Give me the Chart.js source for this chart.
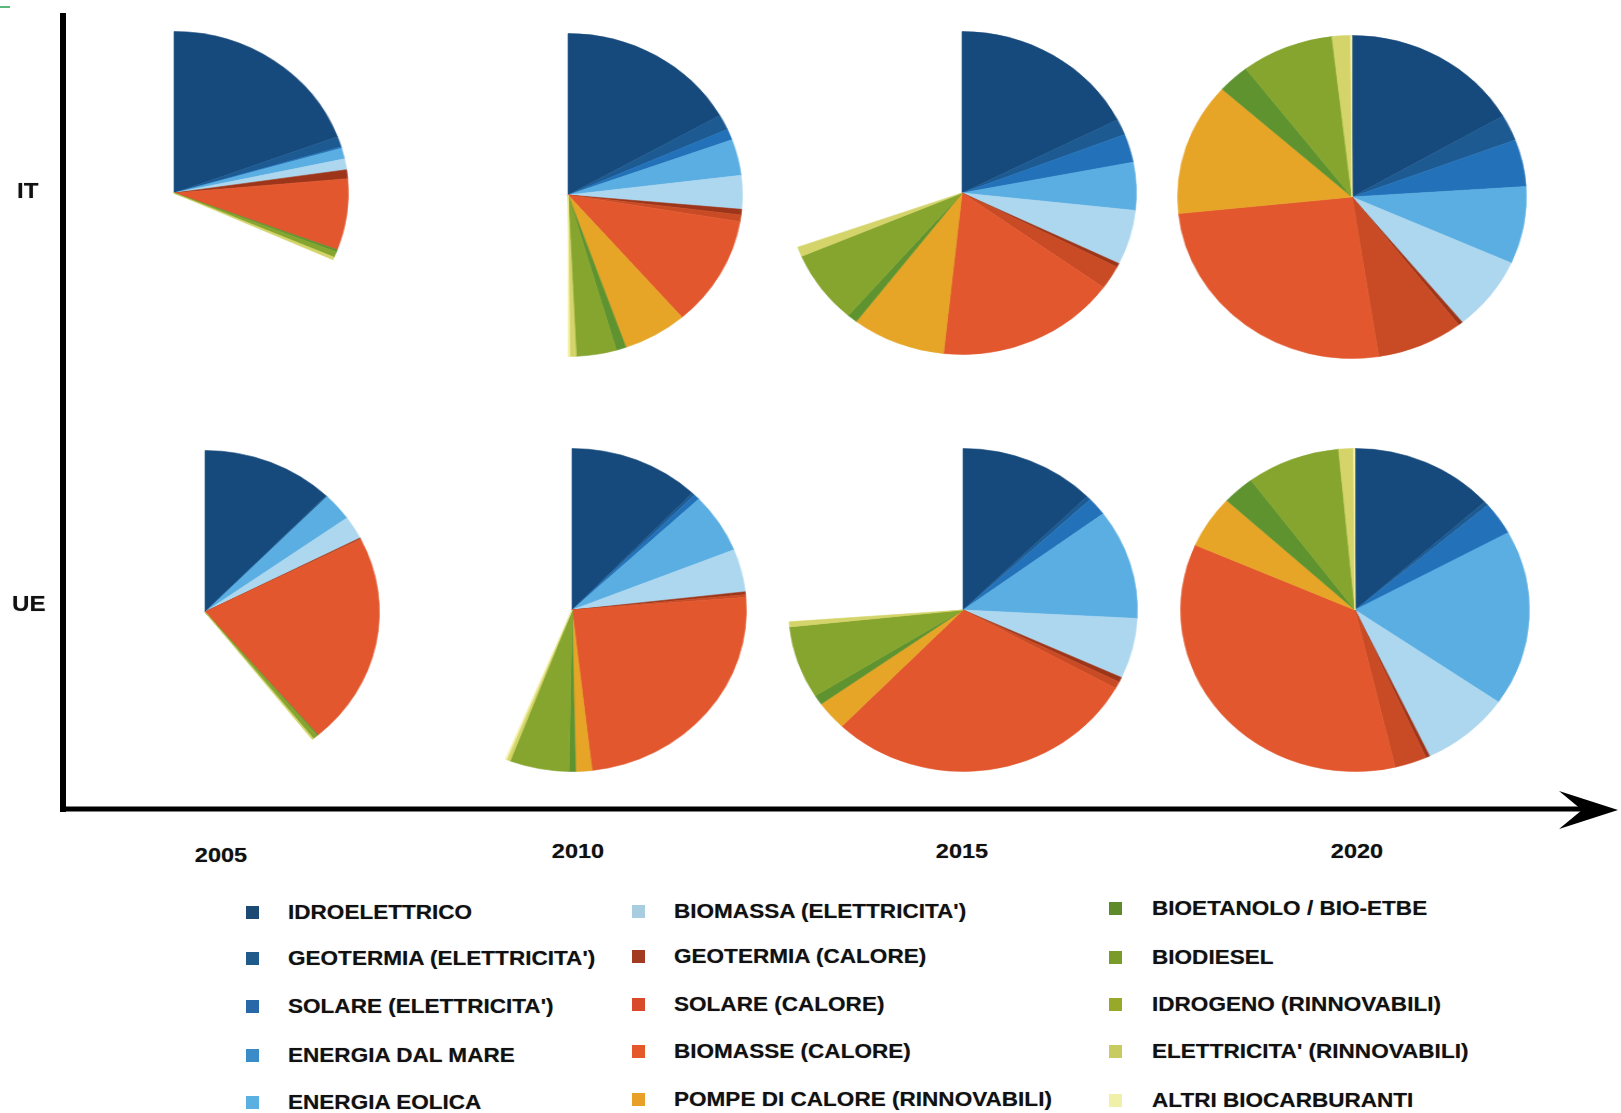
<!DOCTYPE html>
<html>
<head>
<meta charset="utf-8">
<script src="https://cdn.jsdelivr.net/npm/chart.js@4.4.0/dist/chart.umd.min.js"></script>
<style>
  html, body { margin:0; padding:0; background:#ffffff; }
  body { width:1621px; height:1113px; position:relative; overflow:hidden; font-family:"Liberation Sans", Arial, sans-serif; }
  .pie { position:absolute; width:340px; height:340px; transform:scaleX(1.08); transform-origin:50% 50%; }
  .lbl { position:absolute; font-weight:bold; color:#111; white-space:nowrap; transform-origin:0 50%; transform:scaleX(1.1); text-shadow:0 0 1px rgba(0,0,0,0.4); }
  .yr { position:absolute; font-weight:bold; color:#111; font-size:21px; line-height:24px; white-space:nowrap; transform:translateX(-50%) scaleX(1.12); text-shadow:0 0 1px rgba(0,0,0,0.4); }
  .mk { position:absolute; width:13px; height:13px; }
</style>
</head>
<body>
<svg width="1621" height="1113" style="position:absolute;left:0;top:0">
  <line x1="0" y1="7" x2="10" y2="7" stroke="#22a050" stroke-width="1.5"/>
  <line x1="63" y1="13" x2="63" y2="812" stroke="#000" stroke-width="6"/>
  <line x1="60" y1="809" x2="1590" y2="809" stroke="#000" stroke-width="5"/>
  <polygon points="1618,810 1559,791 1582,810 1559,829" fill="#000"/>
</svg>
<div id="root"></div>
<script>
// ---- DATA (angles in degrees; a full circle = 360) ----
const categories = [
  "IDROELETTRICO", "GEOTERMIA (ELETTRICITA')", "SOLARE (ELETTRICITA')", "ENERGIA DAL MARE", "ENERGIA EOLICA",
  "BIOMASSA (ELETTRICITA')", "GEOTERMIA (CALORE)", "SOLARE (CALORE)", "BIOMASSE (CALORE)", "POMPE DI CALORE (RINNOVABILI)",
  "BIOETANOLO / BIO-ETBE", "BIODIESEL", "IDROGENO (RINNOVABILI)", "ELETTRICITA' (RINNOVABILI)", "ALTRI BIOCARBURANTI"
];
const years = ["2005", "2010", "2015", "2020"];
const regions = ["IT", "UE"];
const fullCircle = 360;

//            idro  geoEl solEl mare eol   biomEl geoC solC biomC  pompe bioet biodi idrog elet altri
const it2005 = [69.6, 3.8, 0.5, 0,   3.9,  3.9,  3.2, 0,   25.7,  0,    0.8,  2.0,  0,   1.0, 0];
const it2010 = [60.5, 5.5, 4.0, 0,   13.0, 12.1, 2.0, 2.4, 39.7,  21.4, 3.3,  13.4, 0,   2.1, 0.6];
const it2015 = [63.0, 5.8, 10.2, 0,  17.2, 19.7, 1.4, 8.5, 60.3,  31.2, 3.4,  26.2, 0,   3.5, 0];
const it2020 = [59.9, 9.4, 17.0, 0,  27.8, 26.7, 1.5, 28.9, 92.9, 47.8, 10.6, 30.9, 0,   6.1, 0.5];
const ue2005 = [44.0, 0.4, 0,   0,   10.0, 8.3,  0.3, 0.3, 76.3,  0,    0.4,  1.6,  0,   0.5, 0];
const ue2010 = [43.6, 1.0, 2.0, 0,   21.5, 15.4, 1.0, 1.0, 87.9,  5.4,  2.2,  19.8, 0,   1.2, 0.5];
const ue2015 = [45.3, 1.5, 6.6, 0,   39.6, 21.7, 1.8, 2.5, 105.0, 10.4, 3.5,  26.1, 0,   1.8, 0];
const ue2020 = [48.0, 1.5, 11.8, 0.2, 63.2, 30.0, 1.3, 10.7, 127.0, 19.0, 10.7, 31.2, 0,  4.9, 0.5];

// ---- STYLE ----
const colors = ["#174a7c", "#1d5a92", "#2372b9", "#3d8fd4", "#5aaee2", "#acd7ef", "#9c3519", "#c94b25",
                "#e2572d", "#e6a526", "#5e9330", "#86a52e", "#9aab2a", "#d4d46a", "#f3f0a8"];
const legendColors = ["#1c4a74", "#1f5a8a", "#2868a8", "#3a8cc8", "#5ab0e0", "#a8cce0", "#a33a22", "#d84a2a",
                      "#e4582a", "#e8a028", "#5e8a2a", "#7a9a2a", "#98a828", "#c8cc60", "#f0f0a8"];
const pies = [
  { data: it2005, cx: 174, cy: 193 }, { data: it2010, cx: 568, cy: 195 },
  { data: it2015, cx: 962, cy: 193 }, { data: it2020, cx: 1352, cy: 197 },
  { data: ue2005, cx: 205, cy: 612 }, { data: ue2010, cx: 572, cy: 610 },
  { data: ue2015, cx: 963, cy: 610 }, { data: ue2020, cx: 1355, cy: 610 }
];
const R = 161.5;
const root = document.getElementById('root');

pies.forEach((p) => {
  const wrap = document.createElement('div');
  wrap.className = 'pie';
  wrap.style.left = (p.cx - 170) + 'px';
  wrap.style.top = (p.cy - 170) + 'px';
  const cv = document.createElement('canvas');
  cv.width = 340; cv.height = 340;
  wrap.appendChild(cv);
  root.appendChild(wrap);
  const used = p.data.reduce((a, b) => a + b, 0);
  const values = p.data.concat([Math.max(fullCircle - used, 0)]);
  const bg = colors.concat(['rgba(0,0,0,0)']);
  new Chart(cv, {
    type: 'pie',
    data: {
      labels: categories.concat(['']),
      datasets: [{ data: values, backgroundColor: bg, borderColor: bg, borderWidth: 0.6, radius: R }]
    },
    options: {
      responsive: false, animation: false, rotation: 0, circumference: 360,
      layout: { padding: 0 },
      plugins: { legend: { display: false }, tooltip: { enabled: false } },
      events: []
    }
  });
});

function addText(txt, x, y, size, cls) {
  const d = document.createElement('div');
  d.className = cls;
  d.textContent = txt;
  d.style.fontSize = size + 'px';
  d.style.lineHeight = (size + 4) + 'px';
  d.style.left = x + 'px';
  d.style.top = (y - (size + 4) / 2) + 'px';
  root.appendChild(d);
}
// row labels
addText(regions[0], 17, 191, 22, 'lbl');
addText(regions[1], 12, 604, 22, 'lbl');
// year labels
const yearX = [221, 578, 962, 1357], yearY = [855, 851, 851, 851];
years.forEach((y, i) => {
  const d = document.createElement('div');
  d.className = 'yr'; d.textContent = y;
  d.style.left = yearX[i] + 'px'; d.style.top = (yearY[i] - 12) + 'px';
  root.appendChild(d);
});
// legend
const legCols = [
  { mx: 252, tx: 288, ys: [912, 958, 1006, 1055, 1102] },
  { mx: 638, tx: 674, ys: [911, 956, 1004, 1051, 1099] },
  { mx: 1115, tx: 1152, ys: [908, 957, 1004, 1051, 1100] }
];
categories.forEach((c, i) => {
  const col = legCols[Math.floor(i / 5)], y = col.ys[i % 5];
  const m = document.createElement('div');
  m.className = 'mk';
  m.style.background = legendColors[i];
  m.style.left = (col.mx - 6.5) + 'px';
  m.style.top = (y - 6.5) + 'px';
  root.appendChild(m);
  addText(c, col.tx, y, 20.5, 'lbl');
});
</script>
</body>
</html>
